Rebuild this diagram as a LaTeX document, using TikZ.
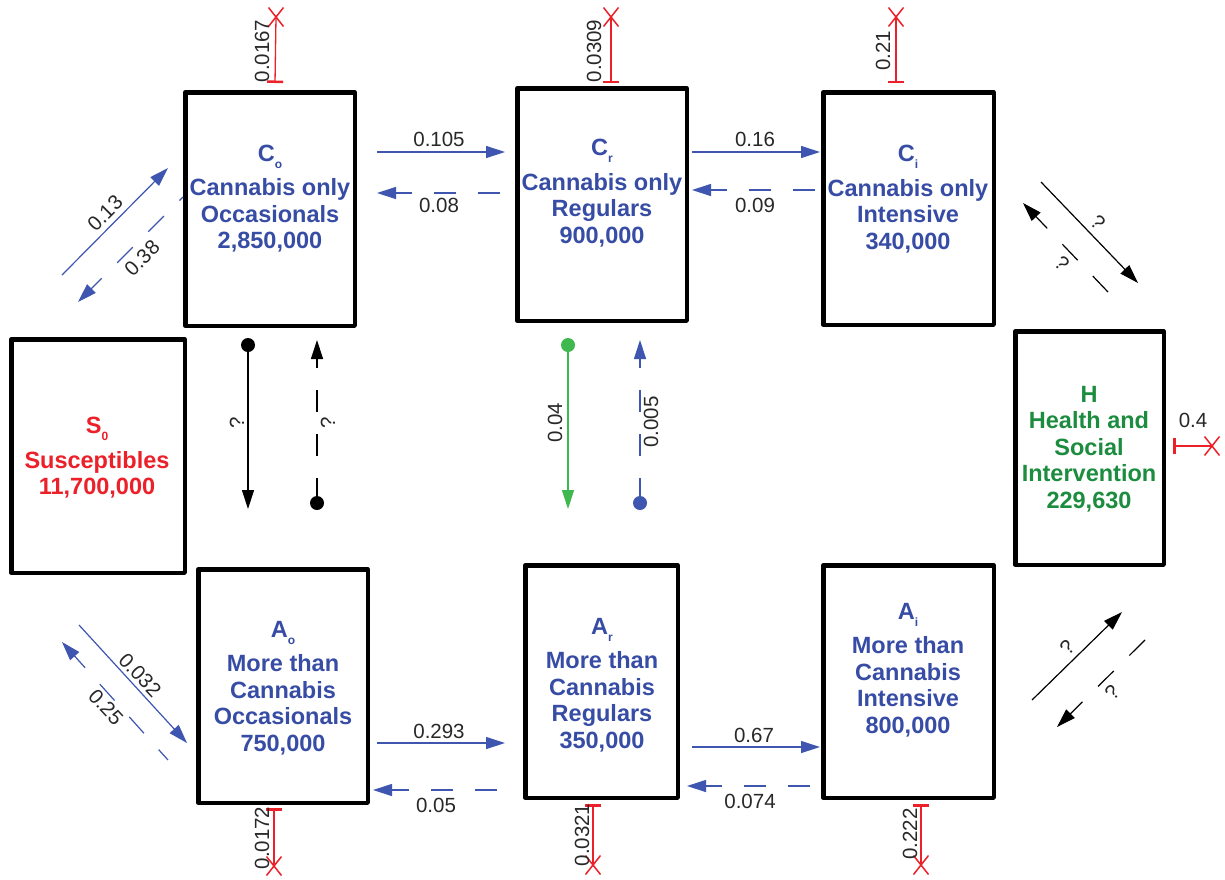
\documentclass[tikz,border=0pt]{standalone}
\usepackage{fontspec}
\setmainfont{Liberation Sans}
\usetikzlibrary{arrows.meta}
\definecolor{bluet}{RGB}{55,76,164}
\definecolor{bluel}{RGB}{62,86,176}
\definecolor{redc}{RGB}{236,32,40}
\definecolor{greent}{RGB}{28,140,62}
\definecolor{greenl}{RGB}{64,184,80}
\definecolor{labc}{RGB}{40,40,40}
\newcommand\mysub[1]{\raisebox{-7pt}{\fontsize{12}{12}\selectfont #1}}
\tikzset{
  box/.style={draw=black, line width=4.5pt, line join=round, inner sep=0pt},
  btext/.style={font=\fontsize{23.5}{26.5}\selectfont\bfseries, align=center, inner sep=0pt},
  lab/.style={font=\fontsize{20.5}{20.5}\selectfont, text=labc, inner sep=0pt},
  tipa/.style={-{Triangle[length=19pt,width=12pt]}},
  blu/.style={draw=bluel, line width=1.2pt, tipa},
  blud/.style={blu, dash pattern=on 22pt off 22pt},
  blk/.style={draw=black, line width=1.2pt, tipa},
  blkd/.style={blk, dash pattern=on 22pt off 22pt},
  grn/.style={draw=greenl, line width=1.2pt, tipa},
  death/.style={draw=redc, line width=1.3pt, {Bar[width=16pt,line width=2.5pt]}-},
  redx/.pic={\draw[redc, line width=1.5pt] (-7.5,-9.5) -- (7.5,9.5) (-7.5,9.5) -- (7.5,-9.5);},
}
\begin{document}
\begin{tikzpicture}[x=1pt,y=-1pt]
\path[use as bounding box, fill=white] (0,0) rectangle (1225,879);

% ---------- boxes ----------
\node[box, minimum width=169.5pt, minimum height=233.5pt] (Co) at (270,209) {};
\node[box, minimum width=169.5pt, minimum height=232.5pt] (Cr) at (602,204.5) {};
\node[box, minimum width=170.5pt, minimum height=232.5pt] (Ci) at (908.5,208.5) {};
\node[box, minimum width=148.5pt, minimum height=233.5pt] (H) at (1089.5,448) {};
\node[box, minimum width=173.5pt, minimum height=233.5pt] (S) at (98,456) {};
\node[box, minimum width=169.5pt, minimum height=233.5pt] (Ao) at (283,686) {};
\node[box, minimum width=152.5pt, minimum height=232.5pt] (Ar) at (601.5,681.5) {};
\node[box, minimum width=170.5pt, minimum height=232.5pt] (Ai) at (908.5,681.5) {};

% ---------- box texts ----------
\node[btext, text=bluet] (Cot) at (270,198.5) {C\mysub{o}\\[8pt]Cannabis only\\Occasionals\\2,850,000};
\node[btext, text=bluet] (Crt) at (602,193) {C\mysub{r}\\[8pt]Cannabis only\\Regulars\\900,000};
\node[btext, text=bluet] (Cit) at (908,199) {C\mysub{i}\\[8pt]Cannabis only\\Intensive\\340,000};
\node[btext, text=redc] (St) at (97,458) {S\mysub{0}\\[8pt]Susceptibles\\11,700,000};
\node[btext, text=greent] (Ht) at (1089,449) {H\\Health and\\Social\\Intervention\\229,630};
\node[btext, text=bluet] (Aot) at (283,688) {A\mysub{o}\\[8pt]More than\\Cannabis\\Occasionals\\750,000};
\node[btext, text=bluet] (Art) at (602,685) {A\mysub{r}\\[8pt]More than\\Cannabis\\Regulars\\350,000};
\node[btext, text=bluet] (Ait) at (908,670) {A\mysub{i}\\[8pt]More than\\Cannabis\\Intensive\\800,000};

% ---------- horizontal transitions, top ----------
\coordinate (t1s) at (377,152); \coordinate (t1e) at (505,152);
\coordinate (t1ds) at (500,193); \coordinate (t1de) at (377,193);
\coordinate (t2s) at (692,152); \coordinate (t2e) at (820,152);
\coordinate (t2ds) at (815,190); \coordinate (t2de) at (692,190);
\draw[blu] (t1s) -- (t1e);
\draw[blud] (t1ds) -- (t1de);
\draw[blu] (t2s) -- (t2e);
\draw[blud] (t2ds) -- (t2de);
\node[lab] (l105) at (439,139) {0.105};
\node[lab] (l08) at (439,205) {0.08};
\node[lab] (l16) at (755,139) {0.16};
\node[lab] (l09) at (755,205) {0.09};

% ---------- horizontal transitions, bottom ----------
\coordinate (b1s) at (377,743); \coordinate (b1e) at (505,743);
\coordinate (b1ds) at (497,790); \coordinate (b1de) at (373,790);
\coordinate (b2s) at (692,747); \coordinate (b2e) at (820,747);
\coordinate (b2ds) at (810,786); \coordinate (b2de) at (687,786);
\draw[blu] (b1s) -- (b1e);
\draw[blud] (b1ds) -- (b1de);
\draw[blu] (b2s) -- (b2e);
\draw[blud] (b2ds) -- (b2de);
\node[lab] (l293) at (439,731) {0.293};
\node[lab] (l05) at (436,805) {0.05};
\node[lab] (l67) at (754,735) {0.67};
\node[lab] (l074) at (750,801) {0.074};

% ---------- vertical transitions ----------
\coordinate (v1s) at (248,345); \coordinate (v1e) at (248,509);
\coordinate (v2s) at (317,500); \coordinate (v2e) at (317,340);
\coordinate (v3s) at (568,345); \coordinate (v3e) at (568,509);
\coordinate (v4s) at (640,500); \coordinate (v4e) at (640,340);
\fill[black] (v1s) circle (7pt);
\draw[blk] (v1s) -- (v1e);
\fill[black] (317,503) circle (7pt);
\draw[blkd] (v2s) -- (v2e);
\fill[greenl] (v3s) circle (7pt);
\draw[grn] (v3s) -- (v3e);
\fill[bluel] (640,503) circle (7pt);
\draw[blud] (v4s) -- (v4e);
\node[lab, rotate=90] (q1) at (237,423) {?};
\node[lab, rotate=90] (q2) at (328,423) {?};
\node[lab, rotate=90] (l04) at (555,423) {0.04};
\node[lab, rotate=90] (l005) at (651,422) {0.005};

% ---------- diagonals, left ----------
\coordinate (d1s) at (62,275); \coordinate (d1e) at (168,168);
\coordinate (d2s) at (183,197); \coordinate (d2e) at (78,302);
\coordinate (d3s) at (79,625); \coordinate (d3e) at (187,743);
\coordinate (d4s) at (168,760); \coordinate (d4e) at (62,642);
\draw[blu] (d1s) -- (d1e);
\draw[blud, dash phase=17pt] (d2s) -- (d2e);
\draw[blu] (d3s) -- (d3e);
\draw[blud, dash phase=8pt] (d4s) -- (d4e);
\node[lab, rotate=45] (l13) at (105,213) {0.13};
\node[lab, rotate=45] (l38) at (142,258) {0.38};
\node[lab, rotate=-47] (l032) at (140,675) {0.032};
\node[lab, rotate=-47] (l25) at (106,707) {0.25};

% ---------- diagonals, right ----------
\coordinate (d5s) at (1041,182); \coordinate (d5e) at (1138,283);
\coordinate (d6s) at (1108,292); \coordinate (d6e) at (1023,203);
\coordinate (d7s) at (1032,700); \coordinate (d7e) at (1122,612);
\coordinate (d8s) at (1145,640); \coordinate (d8e) at (1057,727);
\draw[blk] (d5s) -- (d5e);
\draw[blkd] (d6s) -- (d6e);
\draw[blk] (d7s) -- (d7e);
\draw[blkd] (d8s) -- (d8e);
\node[lab, rotate=-45] (q3) at (1098,222) {?};
\node[lab, rotate=-45] (q4) at (1062,263) {?};
\node[lab, rotate=45] (q5) at (1067,647) {?};
\node[lab, rotate=45] (q6) at (1112,692) {?};

% ---------- exits (red) ----------
\coordinate (x1a) at (275,83); \coordinate (x1b) at (276,17);
\coordinate (x2a) at (611,83); \coordinate (x2b) at (611,17);
\coordinate (x3a) at (896,83); \coordinate (x3b) at (896,17);
\coordinate (x4a) at (274,808); \coordinate (x4b) at (274,866);
\coordinate (x5a) at (593,804); \coordinate (x5b) at (593,865);
\coordinate (x6a) at (921,804); \coordinate (x6b) at (921,865);
\coordinate (x7a) at (1173,446); \coordinate (x7b) at (1212,446);
\foreach \p in {1,...,7} {
  \draw[death] (x\p a) -- (x\p b);
  \pic at (x\p b) {redx};
}
\node[lab, rotate=90] (e1) at (262,51) {0.0167};
\node[lab, rotate=90] (e2) at (594,51) {0.0309};
\node[lab, rotate=90] (e3) at (883,51) {0.21};
\node[lab, rotate=90] (e4) at (262,838) {0.0172};
\node[lab, rotate=90] (e5) at (582,835) {0.0321};
\node[lab, rotate=90] (e6) at (910,834) {0.222};
\node[lab] (e7) at (1193,420) {0.4};
\end{tikzpicture}
\end{document}
